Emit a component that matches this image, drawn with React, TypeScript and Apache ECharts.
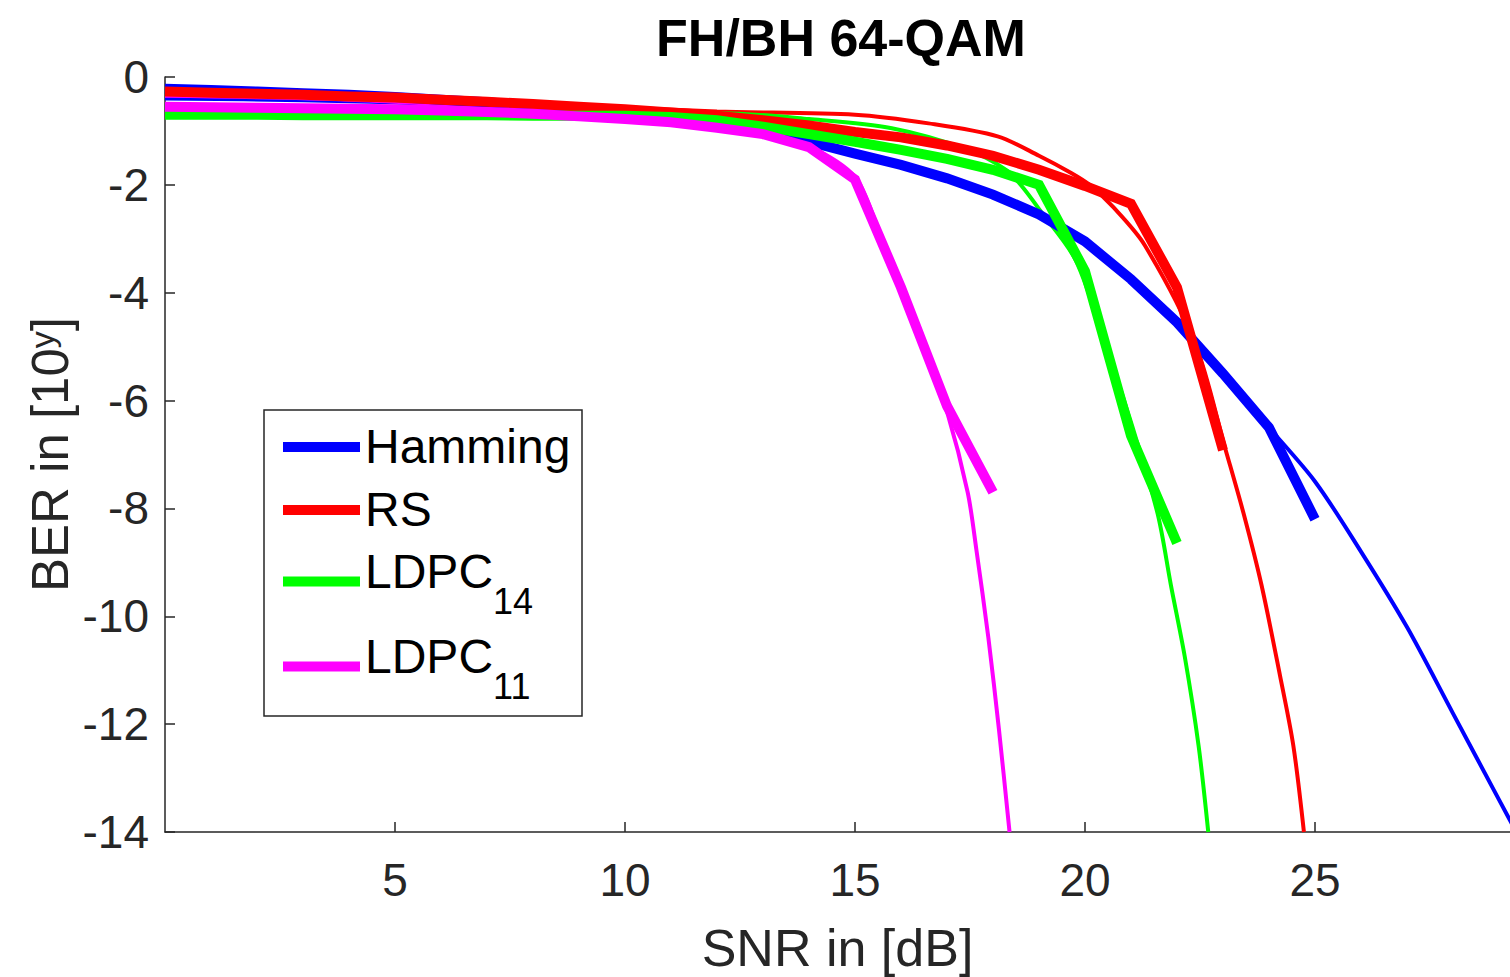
import React, { useEffect, useRef } from "react";
import * as echarts from "echarts";

// ---- data ----
const simSnr = [0, 1, 2, 3, 4, 5, 6, 7, 8, 9, 10, 11, 12, 13, 14, 15, 16, 17, 18, 19, 20, 21, 22, 23, 24, 25];

const hammingSim = [-0.22, -0.24, -0.27, -0.3, -0.33, -0.37, -0.42, -0.47, -0.53, -0.6, -0.68, -0.78, -0.88, -1.0, -1.2, -1.42, -1.63, -1.88, -2.18, -2.55, -3.05, -3.75, -4.55, -5.5, -6.5, -8.2];
const rsSim = [-0.27, -0.29, -0.31, -0.33, -0.36, -0.38, -0.42, -0.46, -0.5, -0.55, -0.6, -0.66, -0.72, -0.8, -0.9, -1.02, -1.12, -1.27, -1.46, -1.72, -2.02, -2.35, -3.9, -6.92];
const ldpc14Sim = [-0.7, -0.7, -0.7, -0.71, -0.71, -0.71, -0.71, -0.71, -0.72, -0.72, -0.72, -0.74, -0.8, -0.92, -1.06, -1.2, -1.35, -1.52, -1.72, -2.0, -3.6, -6.65, -8.64];
const ldpc11Sim = [-0.55, -0.56, -0.57, -0.58, -0.59, -0.6, -0.62, -0.65, -0.68, -0.73, -0.78, -0.84, -0.94, -1.06, -1.3, -1.9, -3.9, -6.1, -7.7];

const hammingTheoryX = [0, 3, 6, 9, 11, 13, 15, 17, 19, 21, 22, 23, 24, 25, 26, 27, 28, 29, 29.5];
const hammingTheoryY = [-0.4, -0.43, -0.5, -0.6, -0.76, -1.0, -1.42, -1.88, -2.55, -3.75, -4.55, -5.5, -6.5, -7.5, -8.8, -10.2, -11.8, -13.4, -14.2];

const rsTheoryX = [0, 4, 8, 12, 15, 16.6, 18.1, 19, 19.7, 20.1, 20.6, 21.3, 22.4, 23.06, 23.45, 23.84, 24.24, 24.53, 24.76];
const rsTheoryY = [-0.3, -0.38, -0.5, -0.64, -0.7, -0.86, -1.1, -1.46, -1.78, -2.0, -2.4, -3.12, -4.95, -6.92, -8.1, -9.43, -11.1, -12.4, -14];

const ldpc14TheoryX = [0, 6, 10, 12.1, 14, 15.8, 17.46, 18.3, 18.65, 19.02, 19.8, 20.5, 21, 21.58, 21.87, 22.17, 22.47, 22.68];
const ldpc14TheoryY = [-0.68, -0.68, -0.67, -0.67, -0.78, -0.95, -1.35, -1.73, -2.05, -2.47, -3.4, -5.1, -6.4, -8.1, -9.43, -10.75, -12.4, -14];

const ldpc11TheoryX = [0, 4, 8, 10, 12, 13, 14, 15, 15.5, 16, 16.5, 17, 17.45, 17.64, 17.9, 18.13, 18.36];
const ldpc11TheoryY = [-0.35, -0.42, -0.6, -0.72, -0.9, -1.03, -1.28, -1.85, -2.8, -3.85, -5.0, -6.2, -7.7, -8.77, -10.4, -12.1, -14];

const legendNames = ["Hamming", "RS", "LDPC14", "LDPC11"];
const xTicks = { min: 0, max: 29.24, interval: 5 };
const yTicks = { min: -14, max: 0, interval: 2 };

const BLUE = "#0000ff";
const RED = "#ff0000";
const GREEN = "#00ff00";
const MAGENTA = "#ff00ff";
const AXIS = "#262626";
const FONT = "Liberation Sans";

// legend layout (pixels)
const LEGEND_BOX = { x: 264, y: 410, w: 318, h: 306 };
const LEGEND_ICON_X = 283;
const LEGEND_ROW_Y = [446, 509, 581, 666];
const LEGEND_ROW_OFFSET = [24, 24, 34, 34];

const pairs = (xs: number[], ys: number[]) => ys.map((y, i) => [xs[i], y]);

export default function App() {
  const ref = useRef<HTMLDivElement>(null);

  useEffect(() => {
    if (!ref.current) return;
    const chart = echarts.init(ref.current, undefined, { renderer: "svg" });

    const thick = (name: string, color: string, ys: number[]) => ({
      name,
      type: "line",
      data: pairs(simSnr, ys),
      showSymbol: false,
      symbol: "none",
      lineStyle: { color, width: 10, join: "miter" },
      itemStyle: { color },
      z: 3,
    });
    const thin = (name: string, color: string, xs: number[], ys: number[]) => ({
      name,
      type: "line",
      data: pairs(xs, ys),
      showSymbol: false,
      symbol: "none",
      smooth: 0.3,
      lineStyle: { color, width: 4 },
      itemStyle: { color },
      z: 2,
    });

    const richLegend = {
      b: { fontFamily: FONT, fontSize: 48, lineHeight: 50, verticalAlign: "top", color: "#000000" },
      c: { fontFamily: FONT, fontSize: 48, lineHeight: 69, verticalAlign: "top", color: "#000000" },
      s: { fontFamily: FONT, fontSize: 36, lineHeight: 32, padding: [36, 0, 0, 0], verticalAlign: "top", color: "#000000" },
    };
    const legends = legendNames.map((name, i) => ({
      orient: "vertical",
      left: LEGEND_ICON_X,
      top: LEGEND_ROW_Y[i] - LEGEND_ROW_OFFSET[i],
      data: [name],
      icon: "rect",
      itemWidth: 77,
      itemHeight: 10,
      padding: 0,
      selectedMode: false,
      z: 10,
      formatter: (n: string) => {
        if (n === "LDPC14") return "{c|LDPC}{s|14}";
        if (n === "LDPC11") return "{c|LDPC}{s|11}";
        return "{b|" + n + "}";
      },
      textStyle: { fontFamily: FONT, fontSize: 48, color: "#000000", rich: richLegend },
    }));

    chart.setOption({
      animation: false,
      backgroundColor: "#ffffff",
      textStyle: { fontFamily: FONT },
      title: {
        text: "FH/BH 64-QAM",
        left: 836,
        top: 7,
        textAlign: "center",
        textStyle: { fontFamily: FONT, fontSize: 52, fontWeight: "bold", color: "#000000" },
      },
      grid: { left: 165, top: 77, right: 0, bottom: 145, containLabel: false, outerBoundsMode: "none" },
      graphic: [
        {
          type: "rect",
          z: 8,
          shape: { x: LEGEND_BOX.x, y: LEGEND_BOX.y, width: LEGEND_BOX.w, height: LEGEND_BOX.h },
          style: { fill: "#ffffff", stroke: AXIS, lineWidth: 1.5 },
        },
      ],
      legend: legends,
      xAxis: {
        type: "value",
        min: xTicks.min,
        max: xTicks.max,
        interval: xTicks.interval,
        name: "SNR in [dB]",
        nameLocation: "middle",
        nameGap: 90,
        nameTextStyle: { fontFamily: FONT, fontSize: 52, color: AXIS },
        axisLine: { show: true, onZero: false, lineStyle: { color: AXIS, width: 1.5 } },
        axisTick: { show: true, inside: true, length: 10, lineStyle: { color: AXIS, width: 1.5 } },
        axisLabel: { fontFamily: FONT, fontSize: 46, color: AXIS, margin: 25, showMinLabel: false, showMaxLabel: false },
        splitLine: { show: false },
      },
      yAxis: {
        type: "value",
        min: yTicks.min,
        max: yTicks.max,
        interval: yTicks.interval,
        name: "BER in [10{sup|y}]",
        nameLocation: "middle",
        nameRotate: 90,
        nameGap: 89,
        nameMoveOverlap: false,
        nameTextStyle: {
          fontFamily: FONT,
          fontSize: 51,
          color: AXIS,
          rich: {
            sup: { fontFamily: FONT, fontSize: 34, lineHeight: 34, padding: [0, 0, 28, 0], verticalAlign: "top", color: AXIS },
          },
        },
        axisLine: { show: true, onZero: false, lineStyle: { color: AXIS, width: 1.5 } },
        axisTick: { show: true, inside: true, length: 10, lineStyle: { color: AXIS, width: 1.5 } },
        axisLabel: { fontFamily: FONT, fontSize: 46, color: AXIS, margin: 16 },
        splitLine: { show: false },
      },
      series: [
        thick("Hamming", BLUE, hammingSim),
        thick("RS", RED, rsSim),
        thick("LDPC14", GREEN, ldpc14Sim),
        thick("LDPC11", MAGENTA, ldpc11Sim),
        thin("Hamming theory", BLUE, hammingTheoryX, hammingTheoryY),
        thin("RS theory", RED, rsTheoryX, rsTheoryY),
        thin("LDPC14 theory", GREEN, ldpc14TheoryX, ldpc14TheoryY),
        thin("LDPC11 theory", MAGENTA, ldpc11TheoryX, ldpc11TheoryY),
      ],
    });

    return () => chart.dispose();
  }, []);

  return (
    <div
      ref={ref}
      style={{ position: "fixed", left: 0, top: 0, width: 1510, height: 977, background: "#ffffff" }}
    />
  );
}
